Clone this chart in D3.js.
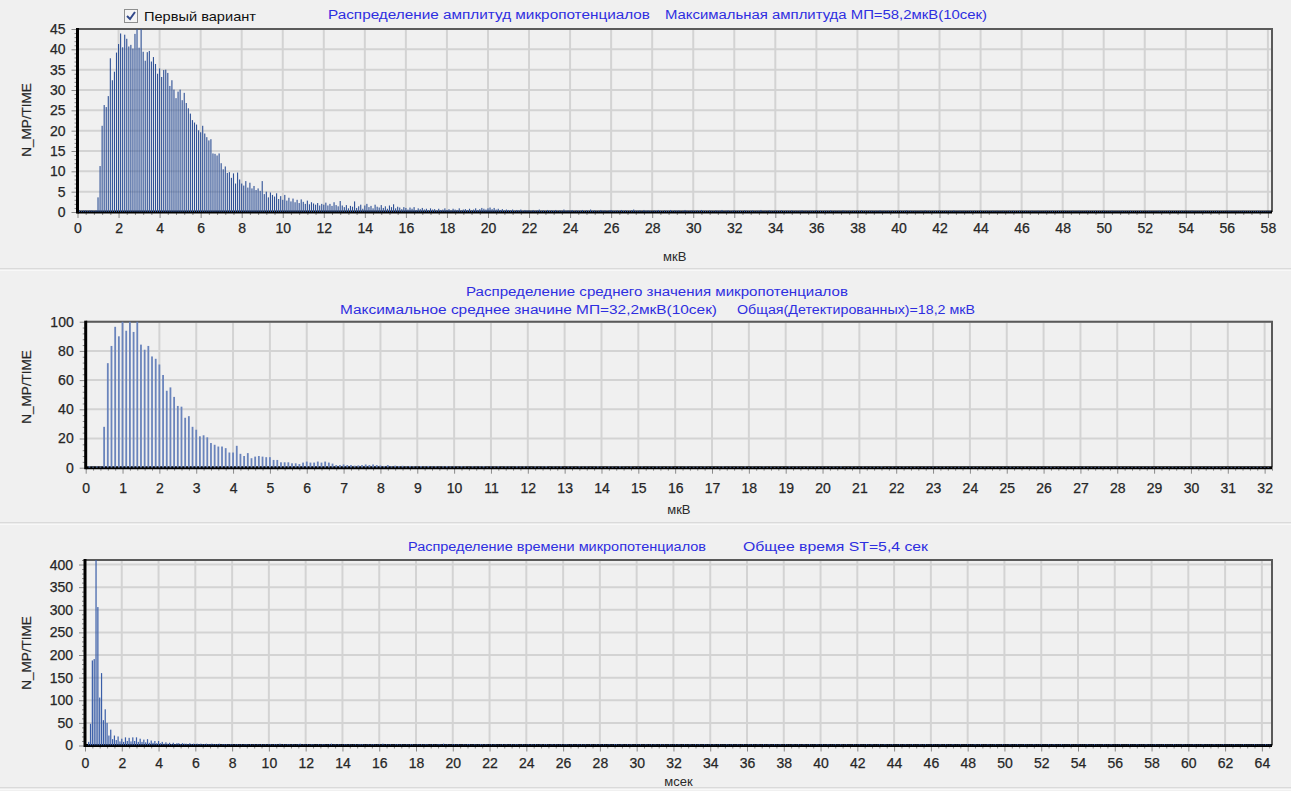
<!DOCTYPE html>
<html>
<head>
<meta charset="utf-8">
<script src="https://cdn.jsdelivr.net/npm/d3@7"></script>
<style>
  html, body { margin: 0; padding: 0; background: #f0f0f0; }
  svg { display: block; font-family: Arial, "Liberation Sans", sans-serif; }
</style>
</head>
<body>
<svg id="chart" width="1291" height="791"></svg>
<script>
// Histogram bin width (мкВ for the first two panels, мсек for the third)
const BIN = 0.1;

// --- Amplitude distribution, counts per 0.1 мкВ bin ---
const amplitudeHead = [
  0.4,0.4,0.3,0.4,0.4,0.3,0.4,0.4,0.3,0.4,
  3.6,11.3,21.2,26.3,25.8,28.5,37.8,32.4,34.5,39.2,
  41.3,43.9,40.5,43.6,42.6,40.7,41.1,40.2,43.8,45.8,
  40.4,45.7,39.4,37.2,39.3,39.6,37.0,38.1,36.4,34.0,
  35.3,33.2,34.9,35.0,34.2,31.0,32.4,30.1,28.0,29.6,
  30.1,27.5,29.3,26.8,25.5,24.2,22.6,22.0,21.5,20.1,
  19.6,21.2,19.3,18.4,17.6,17.9,14.4,14.3,13.9,14.4,
  12.0,10.5,11.2,9.6,9.8,8.4,9.5,7.0,9.7,8.0,
  7.0,6.5,7.6,6.0,7.2,5.8,6.4,5.4,5.8,5.2,
  7.6,4.4,5.0,3.6,4.8,4.2,3.8,4.6,3.2,3.9
];
const amplitudeMid = [
  3.0,4.2,2.8,3.5,2.6,3.3,2.4,3.0,2.2,3.1,
  2.5,2.0,2.8,1.9,2.4,2.1,1.8,2.2,1.6,2.0,
  1.8,2.3,1.6,2.0,1.5,2.4,1.7,1.4,2.7,1.6,
  1.2,1.7,0.9,1.5,1.3,2.6,1.0,1.4,1.8,0.8,
  1.6,2.0,1.2,1.5,0.9,1.8,1.3,1.1,1.7,1.0,
  1.4,0.8,1.6,1.2,1.9,0.9,1.3,1.1,0.7,1.2,
  1.0,0.6,1.1,0.8,1.2,0.5,0.9,0.7,1.0,0.6,
  0.8,0.5,0.9,0.6,0.7,0.4,0.8,0.5,0.6,0.9,
  0.5,0.7,0.4,0.8,0.6,0.5,0.9,0.4,0.6,0.7,
  0.5,0.8,0.4,0.6,0.9,0.5,0.7,1.0,0.8,0.6,
  0.9,1.1,0.7,1.0,0.6,0.8,0.5,0.7,0.4,0.6,
  0.5,0.4,0.6,0.3,0.5,0.4,0.6,0.3,0.5,0.4
];
const amplitudeTail = [
  0.4,0.3,0.5,0.3,0.4,0.6,0.3,0.4,0.2,0.5,0.3,0.4,0.3,0.5,0.2,0.4,0.3,0.6,0.3,0.4,
  0.3,0.5,0.2,0.4,0.3,0.3,0.5,0.2,0.4,0.3,0.6,0.3,0.4,0.2,0.3,0.5,0.3,0.4,0.2,0.4,
  0.5,0.3,0.3,0.4,0.2,0.5,0.3,0.4,0.3,0.2,0.4,0.6,0.3,0.3,0.4,0.2,0.5,0.3,0.4,0.3,
  0.2,0.4,0.3,0.5,0.3,0.2,0.4,0.3,0.3,0.5,0.2,0.4,0.3,0.4,0.2,0.3,0.5,0.3,0.2,0.4,
  0.3,0.3,0.4,0.2,0.5,0.3,0.3,0.2,0.4,0.3,0.2,0.4,0.3,0.3,0.5,0.2,0.3,0.4,0.2,0.3,
  0.4,0.2,0.3,0.3,0.2,0.4,0.3,0.2,0.3,0.4,0.2,0.3,0.3,0.5,0.2,0.3,0.2,0.4,0.3,0.2,
  0.3,0.3,0.2,0.4,0.2,0.3,0.3,0.2,0.4,0.2,0.3,0.2,0.3,0.4,0.2,0.3,0.2,0.3,0.3,0.2,
  0.4,0.2,0.3,0.2,0.3,0.3,0.2,0.4,0.2,0.3,0.2,0.3,0.2,0.4,0.3,0.2,0.3,0.2,0.3,0.2,
  0.3,0.2,0.4,0.2,0.3,0.2,0.3,0.3,0.2,0.3,0.2,0.4,0.2,0.3,0.2,0.3,0.2,0.3,0.2,0.3,
  0.2,0.3,0.2,0.3,0.4,0.2,0.3,0.2,0.3,0.2,0.2,0.3,0.2,0.4,0.2,0.3,0.2,0.2,0.3,0.2,
  0.3,0.2,0.2,0.3,0.2,0.3,0.2,0.4,0.2,0.2,0.3,0.2,0.3,0.2,0.2,0.3,0.2,0.3,0.2,0.2,
  0.3,0.2,0.2,0.3,0.2,0.2,0.3,0.2,0.3,0.2,0.2,0.3,0.2,0.2,0.3,0.2,0.3,0.2,0.2,0.3,
  0.2,0.2,0.3,0.2,0.2,0.3,0.2,0.2,0.3,0.2,0.2,0.2,0.3,0.2,0.2,0.3,0.2,0.2,0.3,0.2,
  0.2,0.3,0.2,0.2,0.2,0.3,0.2,0.2,0.3,0.2,0.2,0.2,0.3,0.2,0.2,0.2,0.3,0.2,0.2,0.2,
  0.3,0.2,0.2,0.2,0.3,0.2,0.2,0.2,0.2,0.3,0.2,0.2,0.2,0.3,0.2,0.2,0.2,0.2,0.3,0.2,
  0.2,0.2,0.3,0.2,0.2,0.2,0.2,0.3,0.2,0.2,0.2,0.2,0.3,0.2,0.2,0.2,0.2,0.2,0.3,0.2,
  0.2,0.2,0.2,0.3,0.2,0.2,0.2,0.2,0.2,0.3,0.2,0.2,0.2,0.2,0.2,0.3,0.2,0.2,0.2,0.2,
  0.2,0.3,0.2,0.2,0.2,0.2,0.2,0.2,0.3,0.2,0.2,0.2,0.2,0.2,0.2,0.3,0.2,0.2,0.2,0.2,
  0.2,0.2
];

// --- Mean value distribution, counts per 0.1 мкВ bin ---
const meanHead = [
  0.8,1.0,0.7,0.9,0.8,28,71.6,83.4,96.5,90,
  101,93.8,103,93,102,84.3,80.8,83.4,76.2,74.6,
  70.7,63.5,52.7,55,48.5,42.3,41.8,34.2,35.3,28,
  26,21.5,22.2,20.8,16.9,15.7,14.5,14.5,13.4,10.4,
  10.4,15,9.5,8,10,6.5,7.6,8,7.6,7.2,
  7.2,5.3,5.3,3.7,3.7,3.7,3,3,2.5,3.5,
  4.2,3.5,3.5,4.2,3.5,4.2,3.5,2.8,1.8,1.8,
  2.2,1.8,1.8,1.4,1.6,1.8,2.2,1.8,2.2,1.8,
  1.5,1.2,1.8,1.0,1.4,1.1,1.3,0.9,1.2,1.0,
  0.8,1.1,0.9,1.2,0.8,1.0,0.7,0.9,1.1,0.8,
  0.9,0.7,1.0,0.8,0.6,0.9,0.7,0.8,1.0,0.6,
  0.8,0.7,0.9,0.6,0.8,0.7,0.6,0.9,0.7,0.8
];
const meanTail = [
  0.7,0.5,0.8,0.6,0.7,0.9,0.5,0.7,0.6,0.8,0.5,0.7,0.6,0.5,0.8,0.6,0.7,0.5,0.6,0.8,
  0.6,0.5,0.7,0.6,0.5,0.8,0.6,0.5,0.7,0.5,0.6,0.7,0.5,0.6,0.5,0.7,0.6,0.5,0.6,0.7,
  0.5,0.6,0.5,0.7,0.5,0.6,0.6,0.5,0.7,0.5,0.6,0.5,0.6,0.7,0.5,0.6,0.5,0.6,0.5,0.7,
  0.5,0.6,0.5,0.5,0.7,0.5,0.6,0.5,0.6,0.5,0.5,0.7,0.5,0.6,0.5,0.5,0.6,0.5,0.6,0.5,
  0.6,0.5,0.5,0.6,0.5,0.7,0.5,0.5,0.6,0.5,0.5,0.6,0.5,0.5,0.6,0.5,0.7,0.5,0.5,0.6,
  0.5,0.5,0.6,0.5,0.5,0.6,0.5,0.5,0.6,0.5,0.6,0.5,0.5,0.6,0.5,0.5,0.5,0.6,0.5,0.5,
  0.6,0.5,0.5,0.5,0.6,0.5,0.5,0.6,0.5,0.5,0.5,0.6,0.5,0.5,0.5,0.6,0.5,0.5,0.6,0.5,
  0.5,0.5,0.6,0.5,0.5,0.5,0.6,0.5,0.5,0.5,0.5,0.6,0.5,0.5,0.5,0.6,0.5,0.5,0.5,0.5,
  0.6,0.5,0.5,0.5,0.5,0.6,0.5,0.5,0.5,0.6,0.5,0.5,0.5,0.5,0.5,0.6,0.5,0.5,0.5,0.5,
  0.5,0.6,0.5,0.5,0.5,0.5,0.6,0.5,0.5,0.5,0.5,0.5,0.6,0.5,0.5,0.5,0.5,0.5,0.6,0.5,
  0.5,0.5
];

// --- Duration distribution, counts per 0.1 мсек bin ---
const durationHead = [
  0.5,1,8,48,188,191,410,306,106,160,
  56,80,50,22,35,14,22,12,20,9,
  15,8,18,10,17,9,18,10,18,8,
  15,8,13,7,14,6,11,6,10,5,
  10,5,8,4,7,4,6,3,6,3,
  5
];
const durationMid = [
  5,3,5,4,4,3,5,3,4,3, 4,3,4,3,3,4,3,3,4,3,
  3,3,4,2,3,3,3,2,3,3, 2,3,3,2,3,2,3,3,2,3,
  2,3,2,3,2,3,2,3,2,3
];
const durationTail = [
  3,2,3,3,2,4,2,3,2,3,3,2,3,2,2,3,4,2,3,2,3,2,3,3,2,
  2,3,2,3,3,2,2,3,4,2,3,2,3,2,2,3,3,2,3,2,2,3,2,3,3,
  3,2,2,3,2,3,3,2,2,3,2,4,2,3,2,3,2,2,3,3,2,3,2,2,3,
  2,3,3,2,2,3,2,3,2,3,3,2,2,3,2,2,3,3,2,4,2,3,2,2,3,
  3,2,3,2,2,3,2,3,3,2,2,3,2,2,3,3,2,3,2,2,3,2,3,2,2,
  2,3,2,3,2,2,3,2,3,3,2,2,3,2,2,3,2,3,2,3,2,2,3,2,3,
  3,2,2,3,2,3,2,2,3,2,3,3,2,2,3,2,2,3,2,3,2,3,2,2,3,
  2,2,3,2,3,2,3,2,2,3,2,2,3,3,2,2,3,2,2,3,2,3,2,2,3,
  2,3,2,2,3,2,2,3,2,3,2,2,3,2,3,2,2,3,2,2,3,2,3,2,2,
  3,2,2,3,2,2,3,2,3,2,2,3,2,2,3,2,3,2,2,3,2,2,2,3,2,
  2,3,2,2,3,2,2,3,2,2,3,2,3,2,2,3,2,2,3,2,2,3,2,2,3,
  2,2,3,2,2,3,2,2,2,3,2,2,3,2,2,3,2,2,3,2,2,2,3,2,2,
  3,2,2,3,2,2,2,3,2,2,3,2,2,3,2,2,2,3,2,2,3,2,2,2,3,
  2,2,3,2,2,2,3,2,2,3,2,2,2,3,2,2,2,3,2,2,3,2,2,2,3,
  2,2,2,3,2,2,3,2,2,2,3,2,2,2,3,2,2,3,2,2,2,3,2,2,2,
  3,2,2,2,3,2,2,2,3,2,2,3,2,2,2,3,2,2,2,3,2,2,2,3,2,
  2,2,3,2,2,2,3,2,2,2,3,2,2,2,2,3,2,2,2,3,2,2,2,3,2,
  2,3,2,2,2,3,2,2,2,2,3,2,2,2,3,2,2,2,2,3,2,2,2,3,2,
  2,2,2,3,2,2,2,3,2,2,2,2,3,2,2,2,2,3,2,2,2,3,2,2,2,
  2,3,2,2,2,2,3,2,2,2,2,3,2,2,2,2,3,2,2,2,2,3,2,2,2,
  2,2,3,2,2,2,2,3,2,2,2,2,2,3,2,2,2,2,3,2,2,2,2,2,3,
  2,2,2,2,3,2,2,2,2,2,3,2,2,2,2,2,3,2,2,2,2,2,3,2,2
];

const amplitudeCounts = amplitudeHead.concat(amplitudeMid, amplitudeTail);
const meanCounts = meanHead.concat(meanTail);
const durationCounts = durationHead.concat(durationMid, durationTail);

// Tick values of each panel
const amplitudeXTicks = d3.range(0, 58 + 1, 2);
const amplitudeYTicks = d3.range(0, 45 + 1, 5);
const meanXTicks = d3.range(0, 32 + 1, 1);
const meanYTicks = d3.range(0, 100 + 1, 20);
const durationXTicks = d3.range(0, 64 + 1, 2);
const durationYTicks = d3.range(0, 400 + 1, 50);

// Panel layout (pixels) and appearance
const panels = [
  {
    counts: amplitudeCounts, xMax: 58.2, yMax: 45,
    xTicks: amplitudeXTicks, yTicks: amplitudeYTicks, xMinorStep: 0.4, yMinorStep: 1,
    left: 77.5, right: 1272, top: 29, bottom: 212,
    xLabelGap: 11.5, unit: "мкВ", unitY: 261, yLabelY: 120,
    barColor: "#2f5196", barWidth: 1.1
  },
  {
    counts: meanCounts, xMax: 32.2, yMax: 100,
    xTicks: meanXTicks, yTicks: meanYTicks, xMinorStep: 0.2, yMinorStep: 4,
    left: 85.7, right: 1272, top: 321.7, bottom: 467.7,
    xLabelGap: 15, unit: "мкВ", unitY: 514, yLabelY: 387,
    barColor: "#6a84bc", barWidth: 1.8
  },
  {
    counts: durationCounts, xMax: 64.55, yMax: 410,
    xTicks: durationXTicks, yTicks: durationYTicks, xMinorStep: 0.4, yMinorStep: 10,
    left: 85, right: 1272, top: 560, bottom: 745.5,
    xLabelGap: 12.5, unit: "мсек", unitY: 786, yLabelY: 653,
    barColor: "#3a5ea8", barWidth: 1.2
  }
];

const svg = d3.select("#chart");

svg.append("rect").attr("width", 1291).attr("height", 791).attr("fill", "#f0f0f0");

// Etched separators between the panels
[269, 523, 788].forEach(yy => {
  svg.append("line").attr("x1", 0).attr("x2", 1291).attr("y1", yy).attr("y2", yy)
    .attr("stroke", "#c4c4c4").attr("stroke-width", 1);
  svg.append("line").attr("x1", 0).attr("x2", 1291).attr("y1", yy + 1).attr("y2", yy + 1)
    .attr("stroke", "#ffffff").attr("stroke-width", 1);
});

// Tick label look: dark grey, slightly heavy
const styleLabels = sel => sel
  .attr("fill", "#262626").attr("stroke", "#262626").attr("stroke-width", 0.25)
  .attr("font-size", 14).attr("font-family", "Arial, 'Liberation Sans', sans-serif");

panels.forEach((p, k) => {
  const x = d3.scaleLinear().domain([0, p.xMax]).range([p.left, p.right]);
  const y = d3.scaleLinear().domain([0, p.yMax]).range([p.bottom, p.top]);
  const g = svg.append("g");

  // Grid
  g.append("g").selectAll("line").data(p.xTicks.filter(d => d > 0)).join("line")
    .attr("x1", d => x(d)).attr("x2", d => x(d)).attr("y1", p.top).attr("y2", p.bottom)
    .attr("stroke", "#d3d3d3").attr("stroke-width", 2);
  g.append("g").selectAll("line").data(p.yTicks.filter(d => d > 0)).join("line")
    .attr("x1", p.left).attr("x2", p.right).attr("y1", d => y(d)).attr("y2", d => y(d))
    .attr("stroke", "#d3d3d3").attr("stroke-width", 2);

  // Frame: top and right edges
  g.append("path")
    .attr("d", `M${p.left},${p.top}H${p.right}V${p.bottom}`)
    .attr("fill", "none").attr("stroke", "#5a5a5a").attr("stroke-width", 2);

  // Minor ticks
  const xMinor = d3.range(0, p.xMax + 1e-9, p.xMinorStep).filter(v => !p.xTicks.some(t => Math.abs(t - v) < 1e-6));
  const yMinor = d3.range(0, p.yMax + 1e-9, p.yMinorStep).filter(v => !p.yTicks.some(t => Math.abs(t - v) < 1e-6));

  g.append("g").attr("transform", `translate(0,${p.bottom})`)
    .call(d3.axisBottom(x).tickValues(xMinor).tickSize(3).tickFormat(""))
    .call(a => a.select(".domain").remove())
    .call(a => a.selectAll("line").attr("stroke", "#8a8a8a"));
  g.append("g").attr("transform", `translate(${p.left},0)`)
    .call(d3.axisLeft(y).tickValues(yMinor).tickSize(3).tickFormat(""))
    .call(a => a.select(".domain").remove())
    .call(a => a.selectAll("line").attr("stroke", "#8a8a8a"));

  // Major ticks with labels
  g.append("g").attr("transform", `translate(0,${p.bottom})`)
    .call(d3.axisBottom(x).tickValues(p.xTicks).tickSize(6).tickPadding(p.xLabelGap - 6).tickFormat(d3.format("d")))
    .call(a => a.select(".domain").remove())
    .call(a => a.selectAll("line").attr("stroke", "#8a8a8a"))
    .call(a => a.selectAll("text").call(styleLabels));
  g.append("g").attr("transform", `translate(${p.left},0)`)
    .call(d3.axisLeft(y).tickValues(p.yTicks).tickSize(6).tickPadding(6).tickFormat(d3.format("d")))
    .call(a => a.select(".domain").remove())
    .call(a => a.selectAll("line").attr("stroke", "#8a8a8a"))
    .call(a => a.selectAll("text").call(styleLabels));

  // Axis lines
  g.append("line").attr("x1", p.left).attr("x2", p.left).attr("y1", p.top - 1).attr("y2", p.bottom + 1.5)
    .attr("stroke", "#000").attr("stroke-width", 3);
  g.append("line").attr("x1", p.left).attr("x2", p.right).attr("y1", p.bottom).attr("y2", p.bottom)
    .attr("stroke", "#000").attr("stroke-width", 3);

  // Bars
  const clipId = "plot-clip-" + k;
  g.append("clipPath").attr("id", clipId).append("rect")
    .attr("x", p.left + 1.5).attr("y", p.top).attr("width", p.right - p.left - 2.5).attr("height", p.bottom - p.top);
  g.append("g").attr("clip-path", `url(#${clipId})`)
    .selectAll("rect").data(p.counts).join("rect")
    .attr("x", (d, i) => x(i * BIN) - p.barWidth / 2)
    .attr("width", p.barWidth)
    .attr("y", d => y(d))
    .attr("height", d => y(0) - y(d))
    .attr("fill", p.barColor);

  // Axis titles
  g.append("text").attr("x", (p.left + p.right) / 2).attr("y", p.unitY)
    .attr("text-anchor", "middle").attr("font-size", 13).attr("fill", "#2b2b2b").text(p.unit);
  g.append("text").attr("transform", `translate(31,${p.yLabelY}) rotate(-90)`)
    .attr("text-anchor", "middle").attr("font-size", 13.5).attr("fill", "#262626")
    .attr("stroke", "#262626").attr("stroke-width", 0.2).text("N_MP/TIME");
});

// Panel headings
const headings = [
  { text: "Распределение амплитуд микропотенциалов", x0: 328, x1: 650, y: 19 },
  { text: "Максимальная амплитуда МП=58,2мкВ(10сек)", x0: 665, x1: 987, y: 19 },
  { text: "Распределение среднего значения микропотенциалов", x0: 466, x1: 848, y: 296 },
  { text: "Максимальное среднее значине МП=32,2мкВ(10сек)", x0: 340, x1: 717, y: 314 },
  { text: "Общая(Детектированных)=18,2 мкВ", x0: 737, x1: 975, y: 314 },
  { text: "Распределение времени микропотенциалов", x0: 408, x1: 706, y: 551 },
  { text: "Общее время ST=5,4 сек", x0: 743, x1: 928, y: 551 }
];
svg.append("g").selectAll("text").data(headings).join("text")
  .attr("x", d => d.x0).attr("y", d => d.y)
  .attr("textLength", d => d.x1 - d.x0).attr("lengthAdjust", "spacingAndGlyphs")
  .attr("font-size", 12.5).attr("fill", "#2e2ee0")
  .text(d => d.text);

// Checkbox with its caption
const cb = svg.append("g").attr("transform", "translate(124,9)");
cb.append("rect").attr("x", 0.5).attr("y", 0.5).attr("width", 13).attr("height", 13)
  .attr("fill", "#f4f4f4").attr("stroke", "#8e8f8f");
cb.append("path").attr("d", "M3,7 L6,10 L11,3")
  .attr("fill", "none").attr("stroke", "#31488a").attr("stroke-width", 2);
svg.append("text").attr("x", 144).attr("y", 21).attr("font-size", 13.5).attr("fill", "#111")
  .attr("textLength", 112).attr("lengthAdjust", "spacingAndGlyphs")
  .text("Первый вариант");
</script>
</body>
</html>
